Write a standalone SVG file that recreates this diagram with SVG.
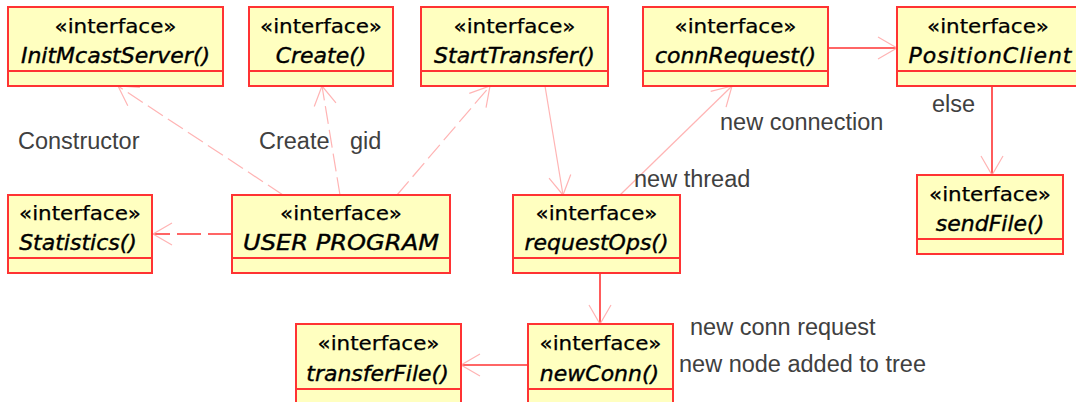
<svg xmlns="http://www.w3.org/2000/svg" width="1076" height="402" viewBox="0 0 1076 402">
<style>
.box{fill:#ffffc0;stroke:#ff3333;stroke-width:2}
.div{stroke:#ff3333;stroke-width:2}
.st{font-family:"DejaVu Sans",sans-serif;font-size:20px;fill:#000;stroke:#000;stroke-width:0.25;text-anchor:middle}
.nm{font-family:"DejaVu Sans",sans-serif;font-size:22px;font-style:italic;fill:#000;stroke:#000;stroke-width:0.4;text-anchor:middle}
.lb{font-family:"Liberation Sans",Arial,sans-serif;font-size:23.5px;fill:#404040}
.pink{stroke:#ffb4b4;stroke-width:1.2;fill:none}
.pdash{stroke:#ffb4b4;stroke-width:1.2;fill:none;stroke-dasharray:18 6}
.red{stroke:#ff3333;stroke-width:1.6;fill:none}
.rdash{stroke:#ff3333;stroke-width:1.6;fill:none;stroke-dasharray:24 7}
</style>
<defs>
<marker id="ah" viewBox="-21 -12 23 24" refX="0" refY="0" markerWidth="23" markerHeight="24" markerUnits="userSpaceOnUse" orient="auto">
<path d="M-19,-11 L0,0 L-19,11" fill="none" stroke="#ffb4b4" stroke-width="1.2"/>
</marker>
</defs>
<g id="connectors">
<line class="pdash" x1="283" y1="195" x2="118" y2="86" marker-end="url(#ah)"/>
<line class="pdash" x1="340" y1="195" x2="322" y2="86" marker-end="url(#ah)"/>
<line class="pdash" x1="397" y1="195" x2="490" y2="86" marker-end="url(#ah)"/>
<line class="rdash" x1="232" y1="234" x2="153" y2="234" marker-end="url(#ah)"/>
<line class="pink" x1="545" y1="86" x2="563" y2="195" marker-end="url(#ah)"/>
<line class="pink" x1="620" y1="195" x2="732" y2="86" marker-end="url(#ah)"/>
<line class="red" x1="828" y1="48" x2="897" y2="48" marker-end="url(#ah)"/>
<line class="red" x1="992" y1="86" x2="992" y2="175" marker-end="url(#ah)"/>
<line class="red" x1="600" y1="273" x2="600" y2="324" marker-end="url(#ah)"/>
<line class="red" x1="528" y1="365" x2="461" y2="365" marker-end="url(#ah)"/>
<text class="lb" x="18" y="149">Constructor</text>
<text class="lb" x="259" y="149">Create</text>
<text class="lb" x="350" y="149">gid</text>
<text class="lb" x="634" y="187">new thread</text>
<text class="lb" x="720" y="130">new connection</text>
<text class="lb" x="932" y="112">else</text>
<text class="lb" x="690" y="335">new conn request</text>
<text class="lb" x="679" y="372">new node added to tree</text>
</g>
<g id="n-initmcastserver">
<rect class="box" x="8" y="7" width="215" height="79"/>
<line class="div" x1="8" y1="71" x2="223" y2="71"/>
<text class="st" x="115.5" y="33" textLength="122" lengthAdjust="spacingAndGlyphs">«interface»</text>
<text class="nm" x="115.5" y="63">InitMcastServer()</text>
</g>
<g id="n-create">
<rect class="box" x="249" y="7" width="144" height="79"/>
<line class="div" x1="249" y1="71" x2="393" y2="71"/>
<text class="st" x="321" y="33" textLength="122" lengthAdjust="spacingAndGlyphs">«interface»</text>
<text class="nm" x="321" y="63">Create()</text>
</g>
<g id="n-starttransfer">
<rect class="box" x="421" y="7" width="187" height="79"/>
<line class="div" x1="421" y1="71" x2="608" y2="71"/>
<text class="st" x="514.5" y="33" textLength="122" lengthAdjust="spacingAndGlyphs">«interface»</text>
<text class="nm" x="514.5" y="63">StartTransfer()</text>
</g>
<g id="n-connrequest">
<rect class="box" x="643" y="7" width="185" height="79"/>
<line class="div" x1="643" y1="71" x2="828" y2="71"/>
<text class="st" x="735.5" y="33" textLength="122" lengthAdjust="spacingAndGlyphs">«interface»</text>
<text class="nm" x="735.5" y="63">connRequest()</text>
</g>
<g id="n-positionclient">
<rect class="box" x="897" y="7" width="186" height="79"/>
<line class="div" x1="897" y1="71" x2="1083" y2="71"/>
<text class="st" x="988" y="33" textLength="122" lengthAdjust="spacingAndGlyphs">«interface»</text>
<text class="nm" x="990" y="63" textLength="163" lengthAdjust="spacing">PositionClient</text>
</g>
<g id="n-statistics">
<rect class="box" x="8" y="195" width="144" height="78"/>
<line class="div" x1="8" y1="258" x2="152" y2="258"/>
<text class="st" x="80" y="220" textLength="122" lengthAdjust="spacingAndGlyphs">«interface»</text>
<text class="nm" x="78" y="250">Statistics()</text>
</g>
<g id="n-userprogram">
<rect class="box" x="232" y="195" width="218" height="78"/>
<line class="div" x1="232" y1="258" x2="450" y2="258"/>
<text class="st" x="341" y="220" textLength="122" lengthAdjust="spacingAndGlyphs">«interface»</text>
<text class="nm" x="341" y="250" textLength="196" lengthAdjust="spacingAndGlyphs">USER PROGRAM</text>
</g>
<g id="n-requestops">
<rect class="box" x="513" y="195" width="167" height="78"/>
<line class="div" x1="513" y1="258" x2="680" y2="258"/>
<text class="st" x="596.5" y="220" textLength="122" lengthAdjust="spacingAndGlyphs">«interface»</text>
<text class="nm" x="596.5" y="250">requestOps()</text>
</g>
<g id="n-sendfile">
<rect class="box" x="917" y="175" width="146" height="79"/>
<line class="div" x1="917" y1="239" x2="1063" y2="239"/>
<text class="st" x="990" y="201" textLength="122" lengthAdjust="spacingAndGlyphs">«interface»</text>
<text class="nm" x="990" y="231">sendFile()</text>
</g>
<g id="n-transferfile">
<rect class="box" x="296" y="324" width="165" height="79"/>
<line class="div" x1="296" y1="389" x2="461" y2="389"/>
<text class="st" x="378.5" y="350" textLength="122" lengthAdjust="spacingAndGlyphs">«interface»</text>
<text class="nm" x="377.5" y="381">transferFile()</text>
</g>
<g id="n-newconn">
<rect class="box" x="528" y="324" width="145" height="79"/>
<line class="div" x1="528" y1="389" x2="673" y2="389"/>
<text class="st" x="600.5" y="350" textLength="122" lengthAdjust="spacingAndGlyphs">«interface»</text>
<text class="nm" x="599.5" y="381">newConn()</text>
</g>
</svg>
